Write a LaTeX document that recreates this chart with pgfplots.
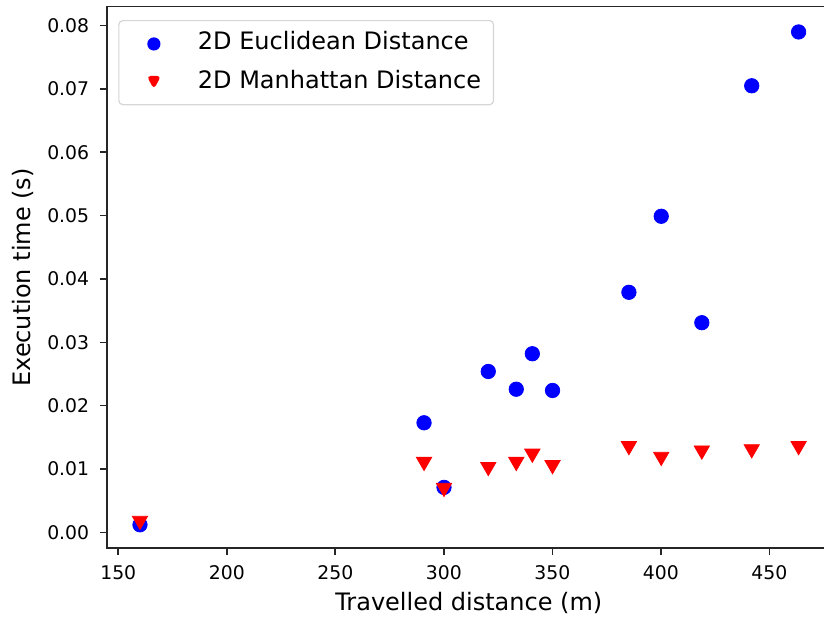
\documentclass[border=0pt]{standalone}
\usepackage{fontspec}
\setmainfont{DejaVu Sans}
\usepackage{pgfplots}
\pgfplotsset{compat=1.18}
\definecolor{SpineGray}{RGB}{38,38,38}
\definecolor{LegendEdge}{RGB}{214,214,214}

\pgfplotstableread{
x      y
160.0  0.0012
290.9  0.0173
300.1  0.0071
320.5  0.0254
333.4  0.0226
340.8  0.0282
350.1  0.0224
385.3  0.0379
400.2  0.0499
418.9  0.0331
441.9  0.0705
463.5  0.0790
}\euclid

\pgfplotstableread{
x      y
160.0  0.0015
290.9  0.0108
300.1  0.0067
320.5  0.0100
333.4  0.0108
340.8  0.0121
350.1  0.0103
385.3  0.0133
400.2  0.0116
418.9  0.0126
441.9  0.0128
463.5  0.0133
}\manhattan

\begin{document}
\begin{tikzpicture}
\begin{axis}[
    at={(0pt,0pt)}, anchor=south west,
    scale only axis,
    width=361.7pt, height=270.8pt,
    xmin=144.85, xmax=478.2,
    ymin=-0.0025, ymax=0.0830,
    xtick={150,200,...,450},
    ytick={0,0.01,...,0.081},
    xtick pos=bottom, ytick pos=left,
    tick align=outside,
    major tick length=3.5pt,
    every tick/.style={SpineGray, line width=0.8pt},
    axis line style={SpineGray, line width=0.8pt},
    /pgf/number format/assume math mode=true,
    y tick label style={/pgf/number format/fixed, /pgf/number format/fixed zerofill, /pgf/number format/precision=2},
    tick label style={font=\fontsize{9.4}{11}\selectfont},
    xticklabel style={yshift=-1.8pt},
    yticklabel style={xshift=-1.95pt},
    scaled y ticks=false,
    xlabel={Travelled distance (m)},
    ylabel={Execution time (s)},
    every axis x label/.style={at={(axis description cs:0.5,0)}, anchor=base, yshift=-30.9pt, font=\fontsize{12}{14}\selectfont},
    every axis y label/.style={at={(axis description cs:0,0.5)}, xshift=-38.45pt, anchor=base, rotate=90, font=\fontsize{12}{14}\selectfont},
    legend cell align=left,
    legend style={at={(axis description cs:0,1)}, anchor=north west,
        xshift=5.6pt, yshift=-6.7pt,
        draw=LegendEdge, line width=0.6pt, fill=white, fill opacity=0.8, text opacity=1,
        rounded corners=2pt,
        inner xsep=6.2pt, inner ysep=4.9pt,
        row sep=6.75pt,
        font=\fontsize{12}{14}\selectfont,
        nodes={inner xsep=0pt, inner ysep=0pt, text height=9.75pt, text depth=3pt},
    },
]
\addplot[only marks, blue, mark=*, mark size=3.6pt, mark options={solid, fill=blue},
    legend image code/.code={
        \path[draw=none] (0pt,0pt) -- (33.3pt,0pt);
        \fill[blue, draw=none, fill opacity=1] (11.3pt,-0.4pt) circle[radius=3.3pt];
    }] table[x=x, y=y] {\euclid};
\addlegendentry{2D Euclidean Distance}
\addplot[only marks, red, mark=triangle*, mark size=4.4pt, mark options={solid, fill=red, yshift=1.1pt, rotate=180},
    legend image code/.code={
        \path[draw=none] (0pt,0pt) -- (33.3pt,0pt);
        \fill[red, draw=none, fill opacity=1] (7.7pt,3.1pt) -- (14.9pt,3.1pt) -- (11.3pt,-3.5pt) -- cycle;
    }] table[x=x, y=y] {\manhattan};
\addlegendentry{2D Manhattan Distance}
\end{axis}
\pgfresetboundingbox
\path[use as bounding box] (-53.55pt,-34.9pt) rectangle (358.45pt,274.1pt);
\end{tikzpicture}
\end{document}
